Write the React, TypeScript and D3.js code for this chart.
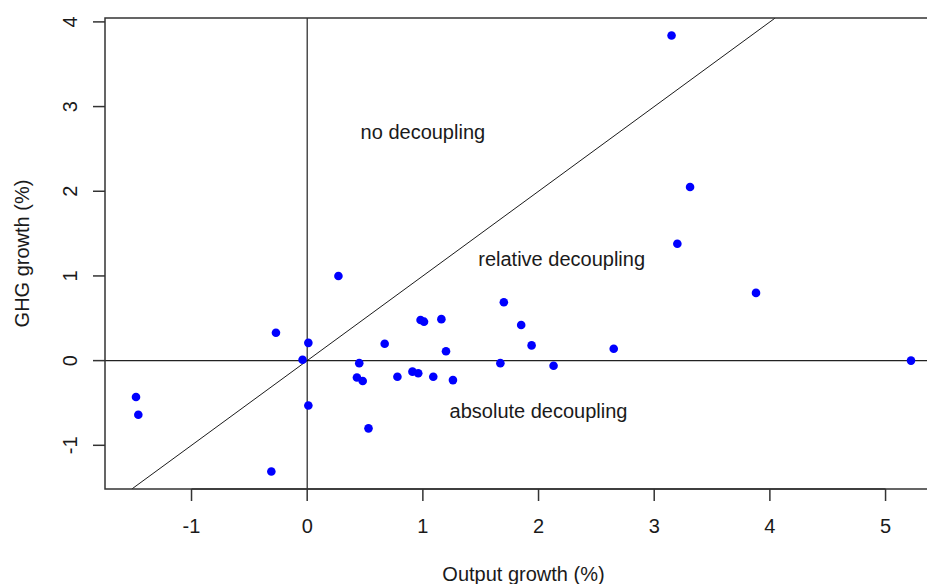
import React from "react";
import * as d3 from "d3";

const outputGrowth = [
  3.15, 3.31, 3.2, 3.88, 5.22, 0.27, -0.27, 0.01, -0.04, 0.01, 0.45, 0.43, 0.48,
  0.53, 0.67, 0.78, 0.91, 0.96, 0.98, 1.01, 1.09, 1.16, 1.2, 1.26, 1.67, 1.7,
  1.85, 1.94, 2.13, 2.65, -1.48, -1.46, -0.31,
];
const ghgGrowth = [
  3.84, 2.05, 1.38, 0.8, 0.0, 1.0, 0.33, 0.21, 0.01, -0.53, -0.03, -0.2, -0.24,
  -0.8, 0.2, -0.19, -0.13, -0.15, 0.48, 0.46, -0.19, 0.49, 0.11, -0.23, -0.03,
  0.69, 0.42, 0.18, -0.06, 0.14, -0.43, -0.64, -1.31,
];
const xTicks = [-1, 0, 1, 2, 3, 4, 5];
const yTicks = [-1, 0, 1, 2, 3, 4];
const regionLabels = ["no decoupling", "relative decoupling", "absolute decoupling"];
const regionX = [1, 2.2, 2];
const regionY = [2.7, 1.2, -0.6];
const xTitle = "Output growth (%)";
const yTitle = "GHG growth (%)";

const W = 927;
const H = 584;
const left = 105;
const right = 942;
const top = 18;
const bottom = 489;

function padded(vals: number[]): [number, number] {
  const [a, b] = d3.extent(vals) as [number, number];
  const p = (b - a) * 0.04;
  return [a - p, b + p];
}

export default function App() {
  const xd = padded(outputGrowth);
  const yd = padded(ghgGrowth);
  const x = d3.scaleLinear().domain(xd).range([left, right]);
  const y = d3.scaleLinear().domain(yd).range([bottom, top]);
  const font = "'Liberation Sans', Arial, sans-serif";
  const txt = "#1a1a1a";
  const fs = 20;
  const diagLo = Math.max(xd[0], yd[0]);
  const diagHi = Math.min(xd[1], yd[1]);
  const pts = outputGrowth.map((v, i) => [v, ghgGrowth[i]]);
  return (
    <svg
      width={W}
      height={H}
      style={{ position: "absolute", left: 0, top: 0, background: "#fff" }}
    >
      <defs>
        <clipPath id="plotclip">
          <rect x={left} y={top} width={right - left} height={bottom - top} />
        </clipPath>
      </defs>
      <rect x={0} y={0} width={W} height={H} fill="#fff" />
      <g clipPath="url(#plotclip)">
        <line x1={x(0)} x2={x(0)} y1={top} y2={bottom} stroke="#222" strokeWidth={1.2} />
        <line x1={left} x2={right} y1={y(0)} y2={y(0)} stroke="#222" strokeWidth={1.2} />
        <line
          x1={x(diagLo)}
          y1={y(diagLo)}
          x2={x(diagHi)}
          y2={y(diagHi)}
          stroke="#000"
          strokeWidth={0.9}
        />
      </g>
      {pts.map(([a, b], i) => (
        <circle key={i} cx={x(a)} cy={y(b)} r={4.3} fill="#0000ff" />
      ))}
      <rect
        x={left}
        y={top}
        width={right - left}
        height={bottom - top}
        fill="none"
        stroke="#333"
        strokeWidth={1.5}
      />
      <line x1={x(xTicks[0])} x2={x(xTicks[xTicks.length - 1])} y1={bottom} y2={bottom} stroke="#333" strokeWidth={1.5} />
      {xTicks.map((t) => (
        <g key={"x" + t}>
          <line x1={x(t)} x2={x(t)} y1={bottom} y2={bottom + 12} stroke="#333" strokeWidth={1.5} />
          <text
            x={x(t)}
            y={526}
            textAnchor="middle"
            dominantBaseline="central"
            fontFamily={font}
            fontSize={fs}
            fill={txt}
          >
            {t}
          </text>
        </g>
      ))}
      {yTicks.map((t) => (
        <g key={"y" + t}>
          <line x1={left - 12} x2={left} y1={y(t)} y2={y(t)} stroke="#333" strokeWidth={1.5} />
          <text
            transform={`translate(70,${y(t)}) rotate(-90)`}
            textAnchor="middle"
            dominantBaseline="central"
            fontFamily={font}
            fontSize={fs}
            fill={txt}
          >
            {t}
          </text>
        </g>
      ))}
      {regionLabels.map((s, i) => (
        <text
          key={s}
          x={x(regionX[i])}
          y={y(regionY[i])}
          textAnchor="middle"
          dominantBaseline="central"
          fontFamily={font}
          fontSize={fs}
          fill={txt}
        >
          {s}
        </text>
      ))}
      <text
        x={(left + right) / 2}
        y={574}
        textAnchor="middle"
        dominantBaseline="central"
        fontFamily={font}
        fontSize={fs}
        fill={txt}
      >
        {xTitle}
      </text>
      <text
        transform={`translate(22,${(top + bottom) / 2}) rotate(-90)`}
        textAnchor="middle"
        dominantBaseline="central"
        fontFamily={font}
        fontSize={fs}
        fill={txt}
      >
        {yTitle}
      </text>
    </svg>
  );
}
